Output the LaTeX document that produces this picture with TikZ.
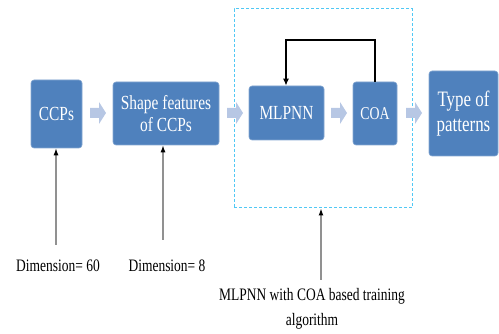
\documentclass[tikz,border=0pt]{standalone}
\usepackage{fontspec}
\usepackage{graphicx}
\setmainfont{Liberation Serif}
\usetikzlibrary{arrows.meta}
\definecolor{boxblue}{RGB}{79,129,189}
\definecolor{arrblue}{RGB}{183,199,228}
\definecolor{dashcyan}{RGB}{80,200,245}
\definecolor{linegray}{RGB}{145,145,145}
\newcommand{\nar}[1]{\scalebox{0.77}[1]{#1}}
\tikzset{
  blk/.style={fill=boxblue, draw=boxblue!70!white, line width=0.6pt, rounded corners=3pt, text=white, align=center, inner sep=0pt},
  lbl/.style={font=\fontsize{17.5}{25}\selectfont, align=center, inner sep=0pt},
  blockarrow/.style={fill=arrblue, draw=none},
  uparrow/.style={draw=linegray, line width=1.2pt, -{Latex[color=black,length=7pt,width=5pt]}},
}
\newcommand{\blockarr}[2]{% x start, y center
  \fill[blockarrow] (#1,#2-5) -- (#1+9,#2-5) -- (#1+9,#2-11) -- (#1+16,#2) -- (#1+9,#2+11) -- (#1+9,#2+5) -- (#1,#2+5) -- cycle;}
\begin{document}
\begin{tikzpicture}[x=1pt,y=-1pt]
\useasboundingbox (0,0) rectangle (499,334);
% dashed container
\node[draw=dashcyan, dashed, dash pattern=on 3pt off 2pt, line width=1pt, minimum width=178pt, minimum height=199pt, inner sep=0pt] (frame) at (323,108.5) {};
% blocks
\node[blk, minimum width=51pt, minimum height=68pt, font=\fontsize{20}{22}\selectfont] (ccp) at (56.5,114) {\nar{CCPs}};
\node[blk, minimum width=106pt, minimum height=63pt, font=\fontsize{20}{22}\selectfont] (shape) at (166,113.5) {\nar{Shape features}\\\nar{of CCPs}};
\node[blk, minimum width=75pt, minimum height=54pt, font=\fontsize{20}{22}\selectfont] (mlp) at (286.5,113) {\nar{MLPNN}};
\node[blk, minimum width=44pt, minimum height=63pt, font=\fontsize{18}{20}\selectfont] (coa) at (375,113.5) {\nar{COA}};
\node[blk, minimum width=69pt, minimum height=85pt, font=\fontsize{22}{25}\selectfont] (type) at (463.5,113.5) {\nar{Type of}\\\nar{patterns}};
% block arrows
\blockarr{90}{113}
\blockarr{227}{113}
\blockarr{331}{113}
\blockarr{406}{113}
% feedback loop
\coordinate (topc) at (375,40);
\coordinate (topm) at (286,40);
\draw[black, line width=1.8pt, -{Latex[length=7pt,width=6pt]}] (coa.north) -- (topc) -- (topm) -- (mlp.north -| topm);
% labels
\node[lbl] (d60) at (58,266) {\nar{Dimension= 60}};
\node[lbl] (d8) at (167,266) {\nar{Dimension= 8}};
\node[lbl] (mc) at (312,309) {\nar{MLPNN with COA based training}\\\nar{algorithm}};
% vertical arrows
\coordinate (s1) at (56,245);
\coordinate (s2) at (163,240);
\coordinate (s3) at (321,280);
\draw[uparrow] (s1) -- (s1 |- ccp.south);
\draw[uparrow] (s2) -- (s2 |- shape.south);
\draw[uparrow] (s3) -- (s3 |- frame.south);
\end{tikzpicture}
\end{document}
